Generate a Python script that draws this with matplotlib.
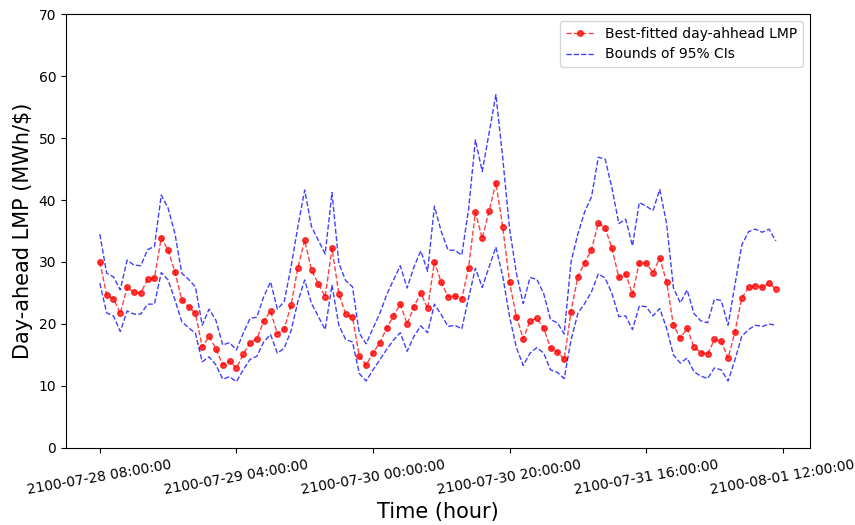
import matplotlib
matplotlib.use("Agg")
import matplotlib.pyplot as plt
import matplotlib.dates as mdates
import pandas as pd

# Hourly timestamps of the forecast horizon
start_time = "2100-07-28 08:00:00"
n_hours = 100

# Best-fitted day-ahead LMP
lmp_fit = [
    30.0, 24.7, 24.1, 21.7, 25.9, 25.1, 25.0, 27.2, 27.4, 33.9,
    31.9, 28.4, 23.9, 22.8, 21.7, 16.3, 18.0, 16.0, 13.4, 14.0,
    12.9, 15.1, 17.0, 17.6, 20.5, 22.1, 18.4, 19.2, 23.0, 29.1,
    33.5, 28.7, 26.5, 24.4, 32.2, 24.9, 21.6, 21.1, 14.8, 13.4,
    15.3, 17.0, 19.3, 21.3, 23.2, 20.0, 22.8, 25.0, 22.5, 30.0,
    26.7, 24.4, 24.5, 24.0, 29.1, 38.0, 33.8, 38.2, 42.8, 35.7,
    26.7, 21.2, 17.6, 20.5, 20.9, 19.3, 16.1, 15.5, 14.3, 22.0,
    27.6, 29.9, 32.0, 36.3, 35.5, 32.2, 27.5, 28.1, 24.8, 29.9,
    29.8, 28.3, 30.6, 26.8, 19.8, 17.7, 19.3, 16.3, 15.4, 15.1,
    17.5, 17.2, 14.5, 18.7, 24.2, 25.9, 26.2, 25.9, 26.6, 25.6,
]

# Upper bound of the 95% confidence interval
ci_upper = [
    34.5, 28.2, 27.6, 25.5, 30.3, 29.5, 29.4, 32.0, 32.5, 40.8,
    38.7, 34.6, 28.2, 27.2, 26.0, 19.8, 22.4, 20.6, 16.6, 17.0,
    15.8, 18.5, 20.9, 21.1, 24.4, 26.8, 22.4, 23.6, 29.2, 35.7,
    41.6, 35.7, 33.5, 31.3, 41.2, 29.8, 27.0, 26.0, 18.5, 16.8,
    19.3, 21.7, 24.7, 27.1, 29.4, 25.8, 29.2, 31.8, 28.5, 39.0,
    34.9, 31.9, 31.9, 31.1, 38.5, 49.7, 44.6, 50.8, 57.0, 46.8,
    35.4, 28.2, 23.3, 27.5, 27.2, 24.9, 20.7, 20.2, 18.4, 30.0,
    34.5, 38.1, 40.5, 46.9, 46.6, 41.9, 36.2, 36.9, 32.6, 39.6,
    39.0, 38.3, 41.7, 36.2, 25.8, 23.4, 25.5, 21.7, 20.5, 20.2,
    24.0, 23.8, 19.8, 26.3, 32.7, 34.9, 35.3, 34.8, 35.3, 33.4,
]

# Lower bound of the 95% confidence interval
ci_lower = [
    26.6, 21.8, 21.3, 18.8, 22.1, 21.6, 21.6, 23.2, 23.2, 28.3,
    27.1, 23.9, 20.4, 19.4, 18.5, 13.9, 14.7, 13.4, 11.1, 11.5,
    10.7, 12.6, 14.3, 14.8, 17.1, 18.3, 15.3, 16.1, 18.9, 23.6,
    27.1, 23.3, 21.2, 19.1, 26.3, 19.8, 17.5, 17.1, 12.0, 10.8,
    12.6, 14.2, 15.9, 17.4, 18.6, 15.6, 18.0, 19.7, 18.6, 23.2,
    21.5, 19.6, 19.8, 19.2, 24.2, 29.0, 25.9, 29.2, 32.4, 27.7,
    21.2, 16.2, 13.3, 15.3, 16.2, 15.3, 12.6, 12.2, 11.2, 17.4,
    21.7, 23.3, 25.2, 28.1, 27.4, 24.9, 21.2, 21.3, 19.1, 22.9,
    22.8, 21.3, 22.5, 19.3, 15.0, 13.7, 14.5, 12.3, 11.6, 11.2,
    12.9, 12.6, 10.8, 14.2, 18.0, 19.1, 19.8, 19.6, 20.0, 19.8,
]

times = pd.date_range(start_time, periods=n_hours, freq="h")
tick_times = pd.date_range(start_time, periods=6, freq="20h")

fig = plt.figure(figsize=(8.55, 5.25), dpi=100)
ax = fig.add_axes([0.0772, 0.1467, 0.8698, 0.8266])

ax.plot(times, lmp_fit, "--", color="red", marker="o", markersize=4,
        linewidth=1, alpha=0.75, label="Best-fitted day-ahhead LMP")
ax.plot(times, ci_upper, "--", color="blue", linewidth=1, alpha=0.75,
        label="Bounds of 95% CIs")
ax.plot(times, ci_lower, "--", color="blue", linewidth=1, alpha=0.75)

ax.set_ylim(0, 70)
ax.set_xticks(tick_times)
ax.xaxis.set_major_formatter(mdates.DateFormatter("%Y-%m-%d %H:%M:%S"))
plt.setp(ax.get_xticklabels(), rotation=10, ha="center")

ax.set_xlabel("Time (hour)", fontsize=15)
ax.set_ylabel(r"Day-ahead LMP (MWh/\$)", fontsize=15)
ax.legend(loc="upper right")

fig.savefig("out.png", dpi=100)
